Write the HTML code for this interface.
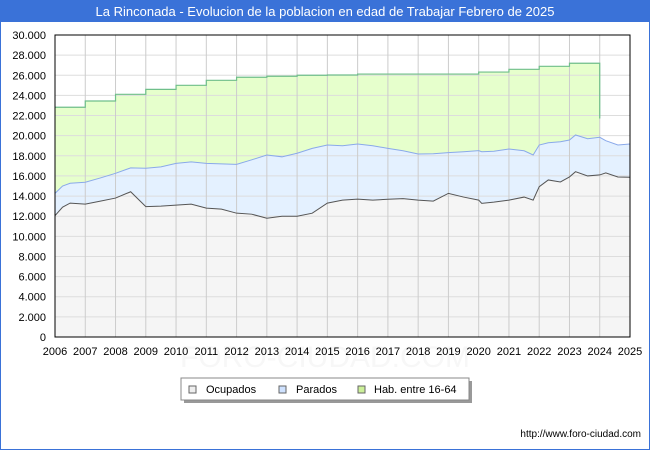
<!DOCTYPE html>
<html><head><meta charset="utf-8"><style>
body{margin:0;background:#fff;font-family:"Liberation Sans",sans-serif}
#wrap{position:relative;width:650px;height:450px;overflow:hidden}
</style></head><body>
<div id="wrap">
<svg id="c" width="650" height="450" xmlns="http://www.w3.org/2000/svg">
<rect x="0.5" y="0.5" width="649" height="449" fill="#fff" stroke="#3a72d8"/>
<rect x="0" y="0" width="650" height="22" fill="#3a72d8"/>
<text x="325" y="16" text-anchor="middle" font-size="13" fill="#fff">La Rinconada - Evolucion de la poblacion en edad de Trabajar Febrero de 2025</text>
<text x="325" y="367" text-anchor="middle" font-size="30" fill="#f7f7f7">FORO-CIUDAD.COM</text>
<g id="plot"></g>
<g>
<rect x="184" y="381" width="288" height="22" fill="#999"/>
<rect x="181" y="378" width="288" height="22" fill="#fff" stroke="#888"/>
<rect x="189" y="386" width="7" height="7" fill="#eee" stroke="#666"/>
<text x="206" y="393" font-size="11" fill="#000">Ocupados</text>
<rect x="279" y="386" width="7" height="7" fill="#cfe2ff" stroke="#666"/>
<text x="296" y="393" font-size="11" fill="#000">Parados</text>
<rect x="358" y="386" width="7" height="7" fill="#ccf099" stroke="#666"/>
<text x="374" y="393" font-size="11" fill="#000">Hab. entre 16-64</text>
</g>
<text x="641" y="437" text-anchor="end" font-size="10" fill="#000">http://www.foro-ciudad.com</text>
</svg>
</div>
<script>
const years=[2006,2007,2008,2009,2010,2011,2012,2013,2014,2015,2016,2017,2018,2019,2020,2021,2022,2023,2024,2025];
const yTicks=[0,2000,4000,6000,8000,10000,12000,14000,16000,18000,20000,22000,24000,26000,28000,30000];
const habYears=[2006,2007,2008,2009,2010,2011,2012,2013,2014,2015,2016,2017,2018,2019,2020,2021,2022,2023];
const habValues=[22820,23440,24110,24600,25000,25500,25800,25900,26000,26030,26120,26120,26120,26120,26320,26590,26890,27190];
const habEndValue=21700;
const tTimes=[2006,2006.25,2006.5,2007,2007.5,2008,2008.5,2009,2009.5,2010,2010.5,2011,2011.5,2012,2012.5,2013,2013.5,2014,2014.5,2015,2015.5,2016,2016.5,2017,2017.5,2018,2018.5,2019,2019.5,2020,2020.1,2020.5,2021,2021.5,2021.8,2022,2022.3,2022.7,2023,2023.2,2023.6,2024,2024.2,2024.6,2025];
const ocupados=[12050,12900,13300,13200,13500,13800,14430,12950,13000,13100,13200,12800,12700,12300,12200,11800,12000,12000,12300,13300,13600,13700,13600,13680,13750,13600,13500,14270,13900,13600,13280,13400,13600,13900,13600,14930,15600,15400,15900,16420,16000,16100,16300,15900,15870];
const totalParados=[14270,15000,15270,15370,15800,16260,16800,16760,16900,17250,17400,17250,17200,17150,17600,18080,17900,18250,18740,19070,19000,19170,19000,18740,18500,18180,18200,18310,18400,18510,18400,18450,18670,18500,18080,19070,19300,19400,19570,20070,19700,19840,19500,19070,19170];
const X0=55,X1=630,Y0=337,Y1=35;
const xs=t=>X0+(t-2006)/(2025-2006)*(X1-X0);
const ys=v=>Y0-v/30000*(Y0-Y1);
const NS="http://www.w3.org/2000/svg";
const g=document.getElementById('plot');
function mk(tag,attrs){const e=document.createElementNS(NS,tag);for(const k in attrs)e.setAttribute(k,attrs[k]);g.appendChild(e);return e;}
let hp=[];habYears.forEach((y,i)=>{const ye=ys(habValues[i]);hp.push([xs(y),ye]);hp.push([xs(y+1),ye]);});
hp.push([xs(2024),ys(habEndValue)]);
const habFill=mk('path',{d:'M'+hp.map(p=>p.join(',')).join(' L')+` L${xs(2024)},${Y0} L${X0},${Y0} Z`,fill:'#e6ffcc'});


const parPts=tTimes.map((t,i)=>[xs(t),ys(totalParados[i])]);
const parFill=mk('path',{d:'M'+parPts.map(p=>p.join(',')).join(' L')+` L${X1},${Y0} L${X0},${Y0} Z`,fill:'#e4f1ff'});


const ocPts=tTimes.map((t,i)=>[xs(t),ys(ocupados[i])]);
const ocFill=mk('path',{d:'M'+ocPts.map(p=>p.join(',')).join(' L')+` L${X1},${Y0} L${X0},${Y0} Z`,fill:'#f5f5f5'});


yTicks.forEach(v=>{const l=mk('line',{x1:X0,x2:X1,y1:ys(v),y2:ys(v),stroke:'#ddd'});


const t=mk('text',{x:X0-9,y:ys(v)+4,'text-anchor':'end','font-size':11,fill:'#000'});t.textContent=v.toLocaleString('de-DE');

});
years.forEach(y=>{const l=mk('line',{x1:xs(y),x2:xs(y),y1:Y1,y2:Y0,stroke:'#ccc'});


const t=mk('text',{x:xs(y),y:355,'text-anchor':'middle','font-size':11,fill:'#000'});t.textContent=y;

});
const hl=mk('polyline',{points:hp.map(p=>p.join(',')).join(' '),fill:'none',stroke:'#6fbf8a','stroke-width':1.2});


const pl=mk('polyline',{points:parPts.map(p=>p.join(',')).join(' '),fill:'none',stroke:'#8aa9ea','stroke-width':1});


const ol=mk('polyline',{points:ocPts.map(p=>p.join(',')).join(' '),fill:'none',stroke:'#555','stroke-width':1});


const b=mk('rect',{x:X0,y:Y1,width:X1-X0,height:Y0-Y1,fill:'none',stroke:'#000'});


</script>
</body></html>
